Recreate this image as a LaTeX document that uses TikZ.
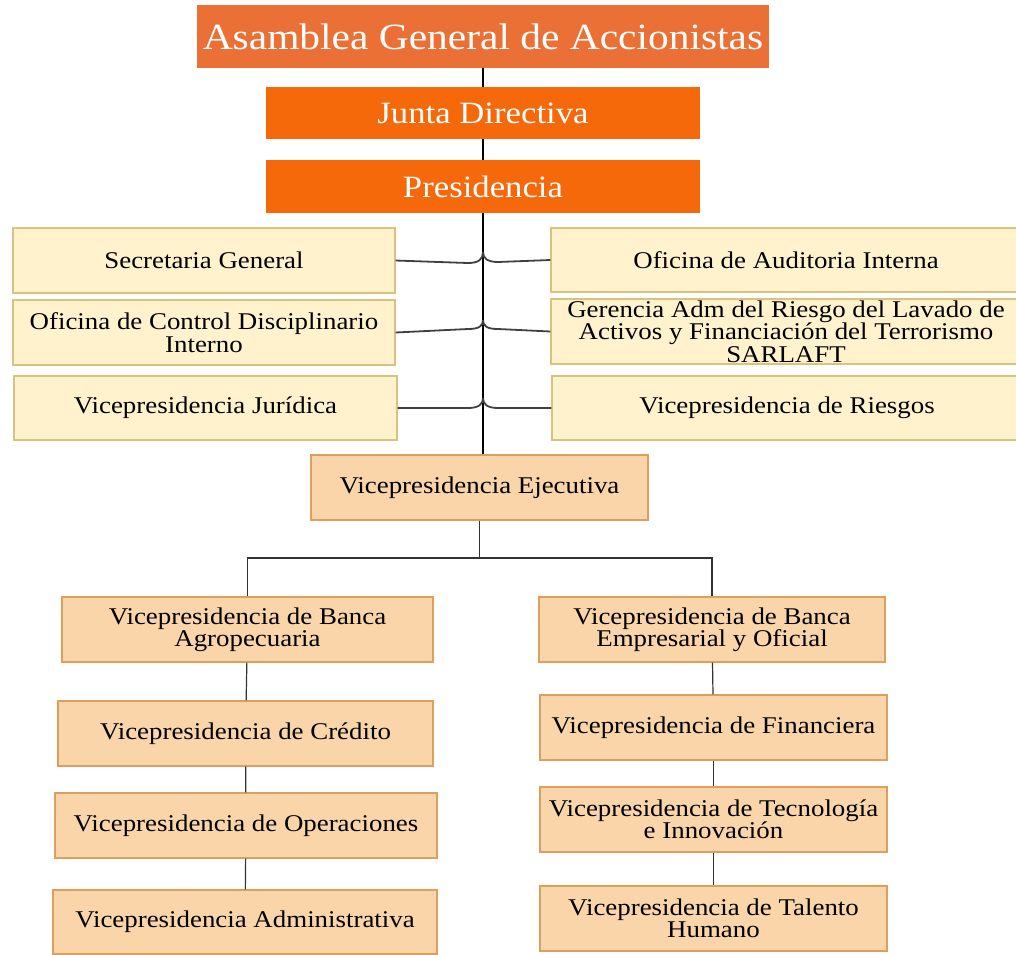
\documentclass[tikz,border=0pt]{standalone}
\usepackage{fontspec}
\setmainfont[FakeStretch=1.12]{Liberation Serif}
\usepackage{tikz}
\usetikzlibrary{calc}
\definecolor{asambleaorange}{HTML}{EA7036}
\definecolor{juntaorange}{HTML}{F5690A}
\definecolor{staffyellow}{HTML}{FFF2CC}
\definecolor{staffborder}{HTML}{D8C27E}
\definecolor{vpfill}{HTML}{F9D5A9}
\definecolor{vpborder}{HTML}{DE9E5C}
\tikzset{
	box/.style={rectangle, inner sep=0pt, align=center, font=\fontsize{12}{11.2}\selectfont},
	topbox/.style={box, fill=asambleaorange, text=white, font=\fontsize{18.5}{20}\selectfont},
	mainbox/.style={box, fill=juntaorange, text=white, font=\fontsize{15.5}{17}\selectfont},
	staffbox/.style={box, fill=staffyellow, draw=staffborder, line width=0.6pt},
	vpbox/.style={box, fill=vpfill, draw=vpborder, line width=0.6pt},
	spine/.style={line width=0.75pt, black},
	link/.style={line width=0.9pt, black!75},
	tree/.style={line width=0.6pt, black!80}
}

\begin{document}
\begin{tikzpicture}[x=0.5pt, y=-0.5pt]
			%%%%% START %%%%%
			\useasboundingbox (0, 0) rectangle (1016, 954);
			
			\node[topbox, minimum width=286pt, minimum height=31.5pt] (asam) at (483, 36.5) {Asamblea General de Accionistas};
			\node[mainbox, minimum width=217pt, minimum height=26pt] (junta) at (483, 113) {Junta Directiva};
			\node[mainbox, minimum width=217pt, minimum height=26.5pt] (pres) at (483, 186.5) {Presidencia};
			
			\node[staffbox, minimum width=191pt, minimum height=32.5pt] (secr) at (204, 260.5) {Secretaria General};
			\node[staffbox, minimum width=235pt, minimum height=32pt] (audi) at (786, 260) {Oficina de Auditoria Interna};
			\node[staffbox, minimum width=191pt, minimum height=32.5pt] (ctrl) at (204, 332.5) {Oficina de Control Disciplinario\\Interno};
			\node[staffbox, minimum width=235pt, minimum height=32.5pt] (sarl) at (786, 331.5) {Gerencia Adm del Riesgo del Lavado de\\Activos y Financiación del Terrorismo\\SARLAFT};
			\node[staffbox, minimum width=191.5pt, minimum height=32pt] (juri) at (205.5, 408) {Vicepresidencia Jurídica};
			\node[staffbox, minimum width=235pt, minimum height=32pt] (ries) at (787, 408) {Vicepresidencia de Riesgos};
			
			\node[vpbox, minimum width=168.5pt, minimum height=32.5pt] (ejec) at (479.5, 487.5) {Vicepresidencia Ejecutiva};
			
			\node[vpbox, minimum width=185.5pt, minimum height=32.5pt] (agro) at (247.5, 629.5) {Vicepresidencia de Banca\\Agropecuaria};
			\node[vpbox, minimum width=187.5pt, minimum height=32.5pt] (cred) at (245.5, 733.5) {Vicepresidencia de Crédito};
			\node[vpbox, minimum width=191pt, minimum height=32.5pt] (oper) at (246, 825.5) {Vicepresidencia de Operaciones};
			\node[vpbox, minimum width=192pt, minimum height=32pt] (admi) at (245, 922) {Vicepresidencia Administrativa};
			
			\node[vpbox, minimum width=173pt, minimum height=32.5pt] (empr) at (712, 629.5) {Vicepresidencia de Banca\\Empresarial y Oficial};
			\node[vpbox, minimum width=173.5pt, minimum height=32.5pt] (fina) at (713.5, 727.5) {Vicepresidencia de Financiera};
			\node[vpbox, minimum width=173.5pt, minimum height=32.5pt] (tecn) at (713.5, 819.5) {Vicepresidencia de Tecnología\\e Innovación};
			\node[vpbox, minimum width=173.5pt, minimum height=32.5pt] (tale) at (713.5, 918.5) {Vicepresidencia de Talento\\Humano};
			
			% line of command
			\draw[spine] (asam) -- (junta);
			\draw[spine] (junta) -- (pres);
			\draw[spine] (pres.south) -- (pres.south |- ejec.north);
			
			% staff offices hooked on the spine
			\coordinate (hookA) at (483, 252);
			\coordinate (hookB) at (483, 320);
			\coordinate (hookC) at (483, 398);
			\draw[link] (secr.east) -- (468, 263) .. controls (479, 263) and (483, 259) .. (hookA);
			\draw[link] (audi.west) -- (498, 262) .. controls (487, 262) and (483, 258) .. (hookA);
			\draw[link] (ctrl.east) -- (468, 329) .. controls (479, 329) and (483, 326) .. (hookB);
			\draw[link] (sarl.west) -- (498, 329) .. controls (487, 329) and (483, 326) .. (hookB);
			\draw[link] (juri.east) -- (468, 408) .. controls (479, 408) and (483, 404) .. (hookC);
			\draw[link] (ries.west) -- (498, 408) .. controls (487, 408) and (483, 404) .. (hookC);
			
			% executive branches
			\coordinate (bus) at (479.5, 558);
			\draw[tree] (ejec.south) -- (bus);
			\draw[tree] (agro.north) |- (bus) -| (empr.north);
			\draw[tree] (agro) -- (cred);
			\draw[tree] (cred) -- (oper);
			\draw[tree] (oper) -- (admi);
			\draw[tree] (empr) -- (fina);
			\draw[tree] (fina) -- (tecn);
			\draw[tree] (tecn) -- (tale);
			%%%%% END %%%%%
\end{tikzpicture}
\end{document}
